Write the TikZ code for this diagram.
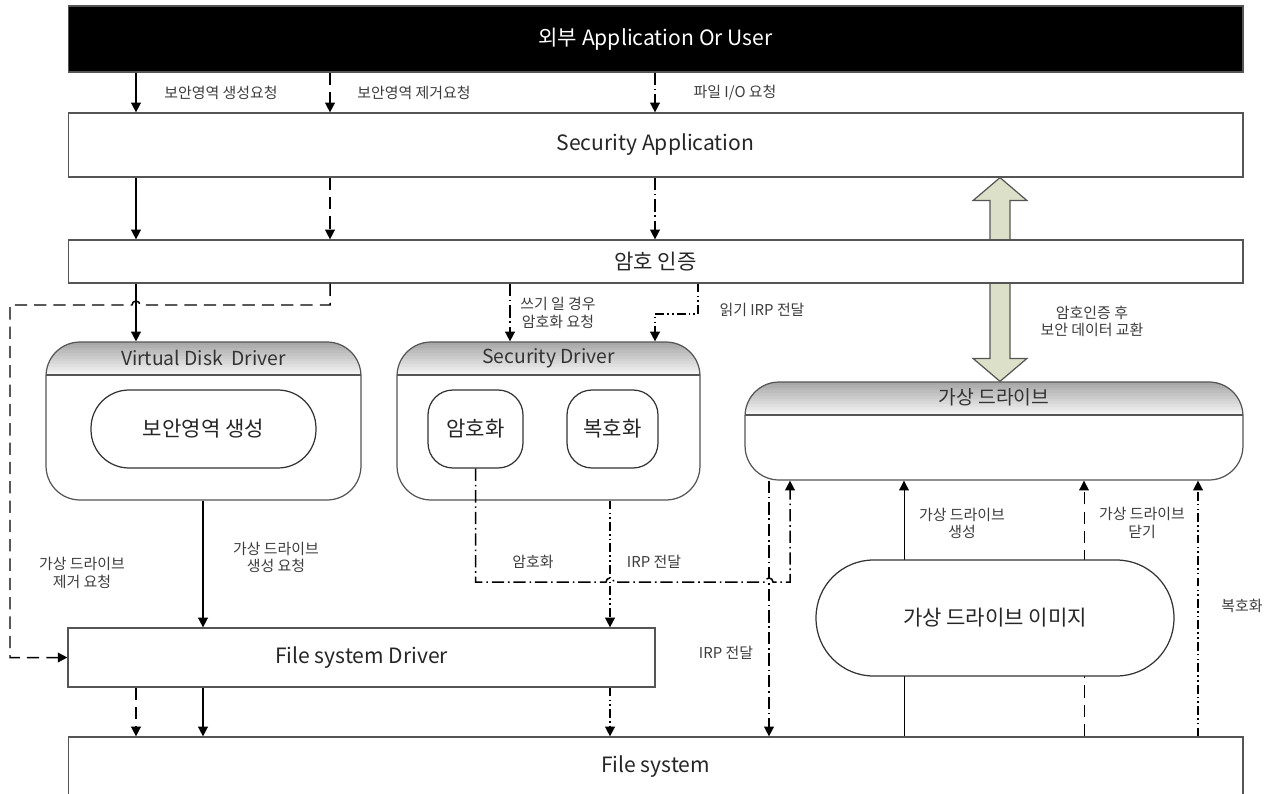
\documentclass[tikz,border=0pt]{standalone}
\usepackage{fontspec}
\setmainfont{Noto Sans CJK KR}
\usetikzlibrary{arrows.meta,calc,backgrounds,positioning}

\definecolor{boxgray}{RGB}{85,85,85}
\definecolor{lblgray}{RGB}{60,60,60}
\definecolor{xchgfill}{RGB}{220,224,200}

\begin{document}
\begin{tikzpicture}[x=0.02cm, y=-0.02cm,
	>={Triangle[length=5.5pt,width=5.5pt]},
	line width=0.85pt,
	bigtext/.style={font=\fontsize{12}{14}\selectfont, text=black!85},
	drvtitle/.style={font=\fontsize{11}{13}\selectfont, text=black!80},
	tag/.style={font=\fontsize{8.5}{9.8}\selectfont, text=lblgray, align=center, inner sep=1pt},
	layer/.style={bigtext, draw=boxgray, line width=0.7pt, fill=white, minimum width=23.5cm, inner sep=0pt},
	drvbox/.style={draw=boxgray, line width=0.7pt, fill=white, rounded corners=0.68cm,
		path picture={
			\foreach \k [evaluate=\k as \g using 34-2.7*\k] in {0,...,11}
				\fill[sharp corners, black!\g]
				([yshift={-0.055cm*\k}]path picture bounding box.north west) rectangle
				([yshift={-0.055cm*\k-0.057cm}]path picture bounding box.north east);
			\draw[sharp corners, draw=boxgray, line width=0.7pt]
			([yshift=-0.66cm]path picture bounding box.north west) -- ([yshift=-0.66cm]path picture bounding box.north east);}},
	core/.style={bigtext, draw=black!80, line width=0.7pt, fill=white, inner sep=0pt},
	mkpath/.style={->},
	rmpath/.style={->, dash pattern=on 7pt off 4pt},
	encpath/.style={->, dash pattern=on 7pt off 2.2pt on 0.9pt off 2.2pt},
	irppath/.style={->, dash pattern=on 5pt off 1.8pt on 0.9pt off 1.8pt on 0.9pt off 1.8pt},
	xchg/.style={draw=boxgray, line width=0.7pt, fill=xchgfill}]

\useasboundingbox (0,0) rectangle (1271,794);

% columns and rows of the flows
\coordinate (xmk) at (136,0);
\coordinate (xrm) at (330,0);
\coordinate (xio) at (655,0);
\coordinate (xwr) at (510,0);
\coordinate (xrd) at (698,0);
\coordinate (xvmk) at (203,0);
\coordinate (xirp) at (610,0);
\coordinate (xvirp) at (769,0);
\coordinate (xvenc) at (790,0);
\coordinate (ximk) at (904,0);
\coordinate (xicl) at (1084,0);
\coordinate (xidec) at (1198,0);
\coordinate (xxchg) at (1000,0);
\coordinate (xleft) at (10,0);
\coordinate (yrm) at (0,305);
\coordinate (yrd) at (0,314);
\coordinate (yenc) at (0,582);

% Layers
\node[layer, fill=black, text=white, minimum height=1.32cm] (app) at (655.5,39) {외부 Application Or User};
\node[layer, minimum height=1.28cm] (secapp) at (655.5,145) {Security Application};
\node[layer, minimum height=0.86cm] (authn) at (655.5,261.5) {암호 인증};
\node[layer, minimum width=11.74cm, minimum height=1.18cm] (fsd) at (361.5,657.5) {File system Driver};
\node[layer, minimum height=1.2cm] (fs) at (655.5,767) {File system};

% Drivers
\node[drvbox, minimum width=6.3cm, minimum height=3.16cm] (vdd) at (203.5,421) {};
\node[drvtitle] (vddtitle) at ($(vdd.north)+(0,17)$) {Virtual Disk~ Driver};

\node[drvbox, minimum width=6.06cm, minimum height=3.16cm] (secdrv) at (548.5,421) {};
\node[drvtitle] (secdrvtitle) at ($(secdrv.north)+(0,17)$) {Security Driver};

\node[drvbox, minimum width=9.96cm, minimum height=1.96cm] (vdrive) at (994,431) {};
\node[drvtitle] (vdrivetitle) at ($(vdrive.north)+(0,16)$) {가상 드라이브};

\node[core, rounded corners=0.76cm, minimum width=4.5cm, minimum height=1.56cm] (vddcore) at (203.5,429) {보안영역 생성};
\node[core, rounded corners=0.5cm, minimum width=1.9cm, minimum height=1.56cm] (enc) at (475.5,429) {암호화};
\node[core, rounded corners=0.5cm, minimum width=1.82cm, minimum height=1.56cm] (dec) at (612.5,429) {복호화};
\node[core, rounded corners=1.15cm, minimum width=7.16cm, minimum height=2.32cm] (vimg) at (995,618) {가상 드라이브 이미지};

% Labels
\node[tag] (lblmk) at (221,93) {보안영역 생성요청};
\node[tag] (lblrm) at (414,93) {보안영역 제거요청};
\node[tag] (lblio) at (735,93) {파일 I/O 요청};
\node[tag] (lblwrite) at (558,313) {쓰기 일 경우\\암호화 요청};
\node[tag] (lblread) at (762,310) {읽기 IRP 전달};
\node[tag] (lblxchg) at (1092,321) {암호인증 후\\보안 데이터 교환};
\node[tag] (lblvrm) at (82,573) {가상 드라이브\\제거 요청};
\node[tag] (lblvmk) at (276,557) {가상 드라이브\\생성 요청};
\node[tag] (lblenc) at (533,562) {암호화};
\node[tag] (lblirp) at (654,562) {IRP 전달};
\node[tag] (lblvirp) at (726,653) {IRP 전달};
\node[tag] (lblimk) at (962,523) {가상 드라이브\\생성};
\node[tag] (lblicl) at (1142,523) {가상 드라이브\\닫기};
\node[tag] (lbldec) at (1242,606) {복호화};

% connections
\draw[mkpath] (app.south -| xmk) -- (secapp.north -| xmk);
\draw[rmpath] (app.south -| xrm) -- (secapp.north -| xrm);
\draw[encpath] (app.south -| xio) -- (secapp.north -| xio);

\draw[mkpath] (secapp.south -| xmk) -- (authn.north -| xmk);
\draw[rmpath] (secapp.south -| xrm) -- (authn.north -| xrm);
\draw[encpath] (secapp.south -| xio) -- (authn.north -| xio);

\draw[mkpath] (authn.south -| xmk) -- (vdd.north -| xmk);
\draw[rmpath] (authn.south -| xrm) -- (yrm -| xrm)
	-- ($(yrm -| xmk)+(4,0)$) arc[start angle=0, end angle=180, radius=0.08cm]
	-- (yrm -| xleft) -- (xleft |- fsd.west) -- (fsd.west);
\draw[encpath] (authn.south -| xwr) -- (secdrv.north -| xwr);
\draw[irppath] (authn.south -| xrd) -- (yrd -| xrd) -- (yrd -| xio) -- (secdrv.north -| xio);

\draw[mkpath] (vdd.south -| xvmk) -- (fsd.north -| xvmk);
\draw[encpath] (enc.south) -- (enc.south |- yenc)
	-- ($(yenc -| xirp)+(-4,0)$) arc[start angle=180, end angle=0, radius=0.08cm]
	-- ($(yenc -| xvirp)+(-4,0)$) arc[start angle=180, end angle=0, radius=0.08cm]
	-- (yenc -| xvenc) -- (vdrive.south -| xvenc);
\draw[irppath] (secdrv.south -| xirp) -- (fsd.north -| xirp);

\draw[rmpath] (fsd.south -| xmk) -- (fs.north -| xmk);
\draw[mkpath] (fsd.south -| xvmk) -- (fs.north -| xvmk);
\draw[irppath] (fsd.south -| xirp) -- (fs.north -| xirp);
\draw[encpath] (vdrive.south -| xvirp) -- (fs.north -| xvirp);
\draw[irppath] (fs.north -| xidec) -- (vdrive.south -| xidec);

\begin{scope}[on background layer]
\draw[mkpath] (fs.north -| ximk) -- (vdrive.south -| ximk);
\draw[rmpath] (fs.north -| xicl) -- (vdrive.south -| xicl);
% exchange arrow
\coordinate (xtop) at (secapp.south -| xxchg);
\coordinate (xbot) at (vdrive.north -| xxchg);
\draw[xchg] (xtop) -- ($(xtop)+(27,23)$) -- ($(xtop)+(10,23)$) -- ($(xbot)+(10,-23)$)
	-- ($(xbot)+(27,-23)$) -- (xbot) -- ($(xbot)+(-27,-23)$) -- ($(xbot)+(-10,-23)$)
	-- ($(xtop)+(-10,23)$) -- ($(xtop)+(-27,23)$) -- cycle;
\end{scope}

\end{tikzpicture}
\end{document}
